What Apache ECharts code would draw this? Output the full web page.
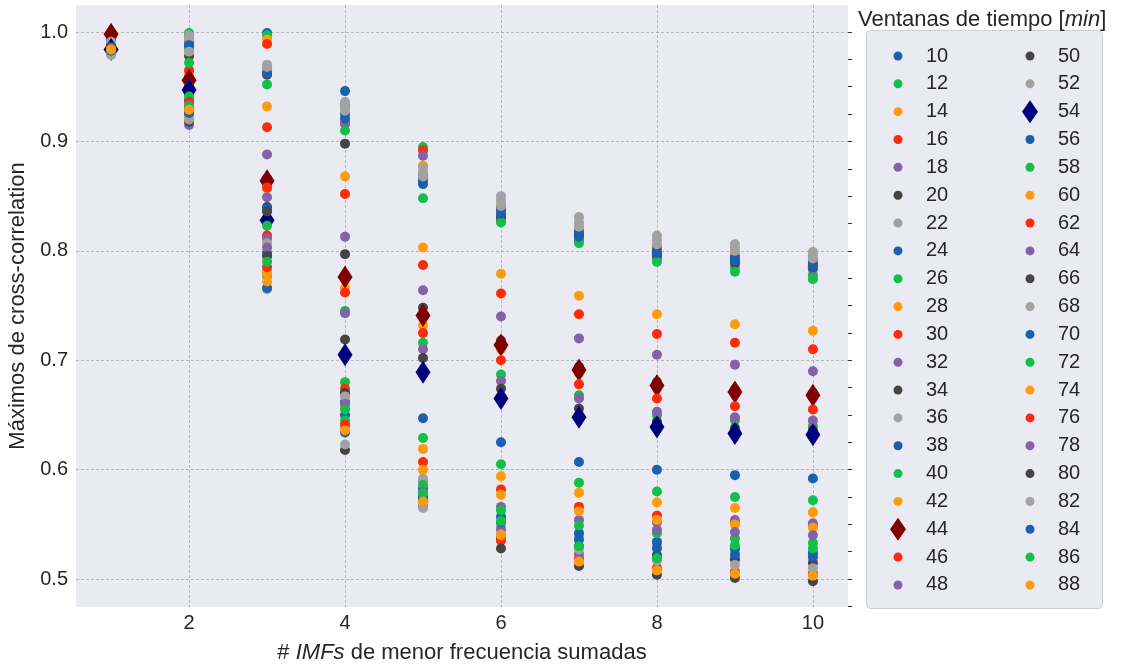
<!DOCTYPE html>
<html><head><meta charset="utf-8">
<script src="https://cdn.jsdelivr.net/npm/echarts@6/dist/echarts.min.js"></script>
<style>html,body{margin:0;padding:0;background:#fff}#c{width:1144px;height:668px}</style>
</head><body><div id="c"></div>
<script>
// x values: number of low-frequency IMFs summed
const imfCounts = [1, 2, 3, 4, 5, 6, 7, 8, 9, 10];
// time windows [min]
const windows = [10,12,14,16,18,20,22,24,26,28,30,32,34,36,38,40,42,44,46,48,50,52,54,56,58,60,62,64,66,68,70,72,74,76,78,80,82,84,86,88];
// cross-correlation maxima per window (one value per IMF count)
const w10 = [0.995,0.996,0.999,0.946,0.866,0.840,0.818,0.804,0.797,0.792];
const w12 = [0.996,0.999,0.997,0.934,0.895,0.828,0.809,0.793,0.785,0.778];
const w14 = [0.994,0.994,0.993,0.930,0.878,0.843,0.822,0.803,0.798,0.791];
const w16 = [0.995,0.991,0.989,0.917,0.892,0.832,0.815,0.797,0.793,0.787];
const w18 = [0.993,0.989,0.966,0.916,0.887,0.829,0.811,0.794,0.789,0.783];
const w20 = [0.996,0.986,0.961,0.898,0.869,0.831,0.814,0.796,0.789,0.785];
const w22 = [0.997,0.997,0.970,0.936,0.876,0.850,0.831,0.814,0.806,0.799];
const w24 = [0.993,0.990,0.964,0.925,0.863,0.837,0.816,0.801,0.794,0.789];
const w26 = [0.994,0.985,0.952,0.910,0.848,0.826,0.807,0.790,0.781,0.774];
const w28 = [0.989,0.963,0.932,0.868,0.803,0.779,0.759,0.742,0.733,0.727];
const w30 = [0.990,0.965,0.913,0.852,0.787,0.761,0.742,0.724,0.716,0.710];
const w32 = [0.988,0.959,0.888,0.813,0.764,0.740,0.720,0.705,0.696,0.690];
const w34 = [0.991,0.978,0.866,0.797,0.748,0.718,0.694,0.680,0.673,0.670];
const w36 = [0.994,0.993,0.966,0.931,0.872,0.846,0.826,0.810,0.803,0.796];
const w38 = [0.992,0.988,0.962,0.921,0.861,0.834,0.813,0.798,0.791,0.786];
const w40 = [0.989,0.972,0.826,0.745,0.716,0.687,0.668,0.650,0.645,0.640];
const w42 = [0.987,0.952,0.857,0.766,0.732,0.710,0.688,0.674,0.669,0.666];
const w44 = [0.998,0.956,0.864,0.776,0.741,0.714,0.691,0.677,0.671,0.668];
const w46 = [0.988,0.950,0.858,0.762,0.725,0.700,0.678,0.665,0.658,0.655];
const w48 = [0.986,0.944,0.849,0.743,0.710,0.681,0.665,0.653,0.648,0.645];
const w50 = [0.987,0.948,0.840,0.719,0.702,0.674,0.656,0.644,0.638,0.636];
const w52 = [0.991,0.982,0.968,0.928,0.868,0.841,0.822,0.806,0.800,0.793];
const w54 = [0.984,0.947,0.828,0.705,0.689,0.665,0.648,0.639,0.633,0.632];
const w56 = [0.986,0.938,0.839,0.662,0.647,0.625,0.607,0.600,0.595,0.592];
const w58 = [0.985,0.941,0.823,0.680,0.629,0.605,0.588,0.580,0.575,0.572];
const w60 = [0.984,0.925,0.781,0.657,0.619,0.594,0.579,0.570,0.565,0.561];
const w62 = [0.985,0.936,0.814,0.674,0.607,0.582,0.566,0.558,0.552,0.549];
const w64 = [0.984,0.933,0.811,0.670,0.590,0.566,0.554,0.552,0.554,0.551];
const w66 = [0.983,0.924,0.836,0.670,0.576,0.538,0.530,0.522,0.518,0.515];
const w68 = [0.982,0.928,0.807,0.667,0.592,0.548,0.538,0.530,0.525,0.522];
const w70 = [0.984,0.930,0.798,0.650,0.583,0.557,0.542,0.534,0.528,0.524];
const w72 = [0.983,0.921,0.777,0.645,0.586,0.563,0.549,0.542,0.537,0.533];
const w74 = [0.982,0.923,0.779,0.641,0.600,0.577,0.562,0.554,0.550,0.547];
const w76 = [0.982,0.927,0.785,0.641,0.572,0.535,0.519,0.510,0.507,0.505];
const w78 = [0.981,0.915,0.803,0.660,0.580,0.545,0.523,0.545,0.543,0.540];
const w80 = [0.980,0.918,0.795,0.618,0.566,0.528,0.512,0.504,0.501,0.498];
const w82 = [0.979,0.920,0.765,0.623,0.565,0.541,0.527,0.517,0.513,0.510];
const w84 = [0.983,0.926,0.766,0.634,0.574,0.552,0.536,0.528,0.522,0.520];
const w86 = [0.984,0.932,0.790,0.655,0.578,0.553,0.530,0.519,0.531,0.528];
const w88 = [0.984,0.929,0.772,0.636,0.571,0.540,0.516,0.508,0.505,0.503];
const seriesValues = [w10,w12,w14,w16,w18,w20,w22,w24,w26,w28,w30,w32,w34,w36,w38,w40,w42,w44,w46,w48,
                      w50,w52,w54,w56,w58,w60,w62,w64,w66,w68,w70,w72,w74,w76,w78,w80,w82,w84,w86,w88];
// highlighted windows (diamonds)
const highlighted = {44: '#7f0000', 54: '#00007f'};
// small tick marks on the right edge of the plot
const rightTicks = [0.475,0.5,0.525,0.55,0.575,0.6,0.625,0.65,0.675,0.7,0.725,0.75,0.775,0.8,0.825,0.85,0.875,0.9,0.925,0.95,0.975,1.0];

const cycle = ['#1a60ae', '#10c048', '#ff9a0a', '#ff2a0a', '#8462a8', '#444444', '#a2a2a2'];
const FONT = 'Liberation Sans';
const TXT = '#262626';
let ci = 0;
const series = windows.map((w, k) => {
  const isD = highlighted[w] !== undefined;
  const color = isD ? highlighted[w] : cycle[(ci++) % cycle.length];
  return {
    type: 'scatter', name: String(w),
    symbol: isD ? 'diamond' : 'circle',
    symbolSize: isD ? [15, 23] : 10,
    itemStyle: {color: color, opacity: 1},
    emphasis: {disabled: true},
    data: imfCounts.map((x, i) => [x, seriesValues[k][i]])
  };
});

const rowH = 27.84, row0 = 56;
const names = windows.map(String);
function legendPart(items, iconCenter, firstRow, diamond) {
  const c = row0 + rowH * firstRow;
  return {
    show: true, orient: 'vertical', padding: 0,
    left: diamond ? iconCenter - 8 : iconCenter - 4.5,
    top: diamond ? c - 11.5 : c - 10,
    itemWidth: diamond ? 16 : 9,
    itemHeight: diamond ? 23 : 9,
    itemGap: diamond ? rowH - 23 : rowH - 20,
    selectedMode: false,
    data: items,
    textStyle: {fontFamily: FONT, fontSize: 20, color: TXT, lineHeight: 20,
      padding: [0, 0, 0, diamond ? 15 : 18.5]}
  };
}
const legends = [
  legendPart(names.slice(0, 17), 898, 0, false),
  legendPart(names.slice(17, 18), 898, 17, true),
  legendPart(names.slice(18, 20), 898, 18, false),
  legendPart(names.slice(20, 22), 1030, 0, false),
  legendPart(names.slice(22, 23), 1030, 2, true),
  legendPart(names.slice(23), 1030, 3, false)
];

const chart = echarts.init(document.getElementById('c'), null, {renderer: 'canvas'});
chart.setOption({
  animation: false,
  backgroundColor: '#ffffff',
  title: {
    left: 853, top: 4,
    text: '{a|Ventanas de tiempo [}{b|min}{a|]}',
    textStyle: {fontWeight: 'normal', rich: {
      a: {fontFamily: FONT, fontSize: 22, fontWeight: 'normal', color: TXT},
      b: {fontFamily: FONT, fontSize: 22, fontWeight: 'normal', fontStyle: 'italic', color: TXT}
    }}
  },
  graphic: [{
    type: 'rect', left: 866, top: 30, z: -1,
    shape: {width: 236, height: 578, r: 4},
    style: {fill: '#eaeaf2', stroke: '#cfcfd8', lineWidth: 1}
  }],
  legend: legends,
  grid: {left: 76, right: 296, top: 5, bottom: 61, show: true, backgroundColor: '#eaeaf2', borderWidth: 0,
    containLabel: false, outerBoundsMode: 'none'},
  xAxis: {
    type: 'value', min: 0.55, max: 10.45, splitNumber: 5,
    name: '# {i|IMFs} de menor frecuencia sumadas',
    nameLocation: 'middle', nameGap: 35,
    nameTextStyle: {fontFamily: FONT, fontSize: 22, color: TXT,
      rich: {i: {fontFamily: FONT, fontSize: 22, fontStyle: 'italic', color: TXT}}},
    axisLine: {show: false}, axisTick: {show: false},
    axisLabel: {showMinLabel: false, showMaxLabel: false, fontFamily: FONT, fontSize: 20, color: TXT, margin: 6},
    splitLine: {show: true, showMinLine: false, showMaxLine: false, lineStyle: {color: '#a8a8ae', type: [3, 2], width: 0.8}}
  },
  yAxis: [{
    type: 'value', min: 0.4745, max: 1.0247, splitNumber: 5,
    name: 'Máximos de cross-correlation',
    nameLocation: 'middle', nameGap: 43,
    nameTextStyle: {fontFamily: FONT, fontSize: 22, color: TXT},
    axisLine: {show: false}, axisTick: {show: false},
    axisLabel: {showMinLabel: false, showMaxLabel: false, fontFamily: FONT, fontSize: 20, color: TXT, margin: 8,
      formatter: v => v.toFixed(1)},
    splitLine: {show: true, showMinLine: false, showMaxLine: false, lineStyle: {color: '#a8a8ae', type: [3, 2], width: 0.8}}
  }, {
    type: 'value', position: 'right', min: 0.4745, max: 1.0247,
    axisLine: {show: false}, axisLabel: {show: false}, splitLine: {show: false},
    axisTick: {show: true, inside: false, length: 4, customValues: rightTicks,
      lineStyle: {color: '#333333', width: 1}}
  }],
  series: series
});
</script></body></html>
